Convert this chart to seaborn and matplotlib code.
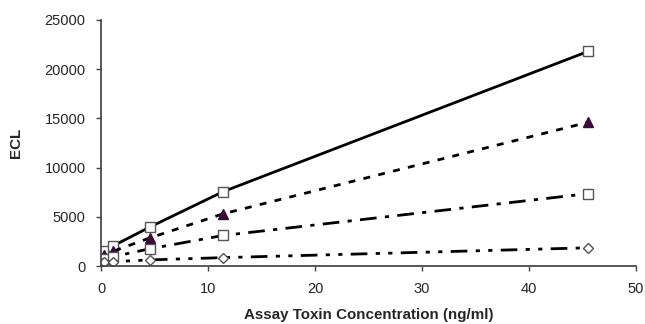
import matplotlib
matplotlib.use("Agg")
import matplotlib.pyplot as plt
import seaborn as sns
import pandas as pd

sns.set_theme(style="ticks")
plt.rcParams['font.family'] = ['Liberation Sans', 'DejaVu Sans']

conc = [0, 0.28, 1.14, 4.55, 11.4, 45.5]
s1 = [1200, 1500, 2050, 3950, 7550, 21800]
s2 = [800, 1100, 1500, 2850, 5300, 14600]
s3 = [600, 750, 950, 1750, 3100, 7350]
s4 = [300, 380, 450, 620, 850, 1850]

names = ["A", "B", "C", "D"]
df = pd.DataFrame({
    "conc": conc * 4,
    "ecl": s1 + s2 + s3 + s4,
    "series": sum([[n] * len(conc) for n in names], []),
})

W, H = 645, 324
fig = plt.figure(figsize=(W / 100, H / 100), dpi=100)
x0, x1, y0, y1 = 101, 636, 20, 266
ax = fig.add_axes([x0 / W, 1 - y1 / H, (x1 - x0) / W, (y1 - y0) / H])

styles = {
    "A": dict(ls="-", marker="s", mfc="white", mec="#555555", ms=6.5),
    "B": dict(ls=(0, (2.5, 3)), marker="^", mfc="#3a0a3a", mec="#3a0a3a", ms=7),
    "C": dict(ls=(0, (6, 3, 1.5, 3)), marker="s", mfc="white", mec="#555555", ms=6.5),
    "D": dict(ls=(0, (6, 3, 1.5, 3, 1.5, 3)), marker="D", mfc="white", mec="#555555", ms=5),
}
for n in names:
    sub = df[df.series == n]
    st = styles[n]
    sns.lineplot(data=sub, x="conc", y="ecl", ax=ax, color="black", lw=2,
                 marker=st["marker"], markerfacecolor=st["mfc"],
                 markeredgecolor=st["mec"], markersize=st["ms"], markeredgewidth=1,
                 legend=False)
    ax.lines[-1].set_linestyle(st["ls"])

ax.set_xlim(0, 50)
ax.set_ylim(0, 25000)
ax.set_xticks([0, 10, 20, 30, 40, 50])
ax.set_yticks([0, 5000, 10000, 15000, 20000, 25000])
ax.tick_params(labelsize=10.5, direction="out", length=3.6, width=1, color="#444444")
ax.tick_params(axis="x", pad=8)
ax.tick_params(axis="y", pad=7.5)
sns.despine(ax=ax)
for sp in ax.spines.values():
    sp.set_color("#444444")

xl = ax.set_xlabel("Assay Toxin Concentration (ng/ml)", fontsize=11, fontweight="bold")
yl = ax.set_ylabel("ECL", fontsize=11, fontweight="bold")

# fit label size to reference width
r = fig.canvas.get_renderer()
w = xl.get_window_extent(r).width
xl.set_fontsize(11 * 250 / w)
yl.set_fontsize(11 * 250 / w)
ax.xaxis.set_label_coords(0.5, (y1 - 308) / (y1 - y0))
ax.yaxis.set_label_coords((23 - x0) / (x1 - x0), 0.5)

fig.savefig("out.png", dpi=100)
